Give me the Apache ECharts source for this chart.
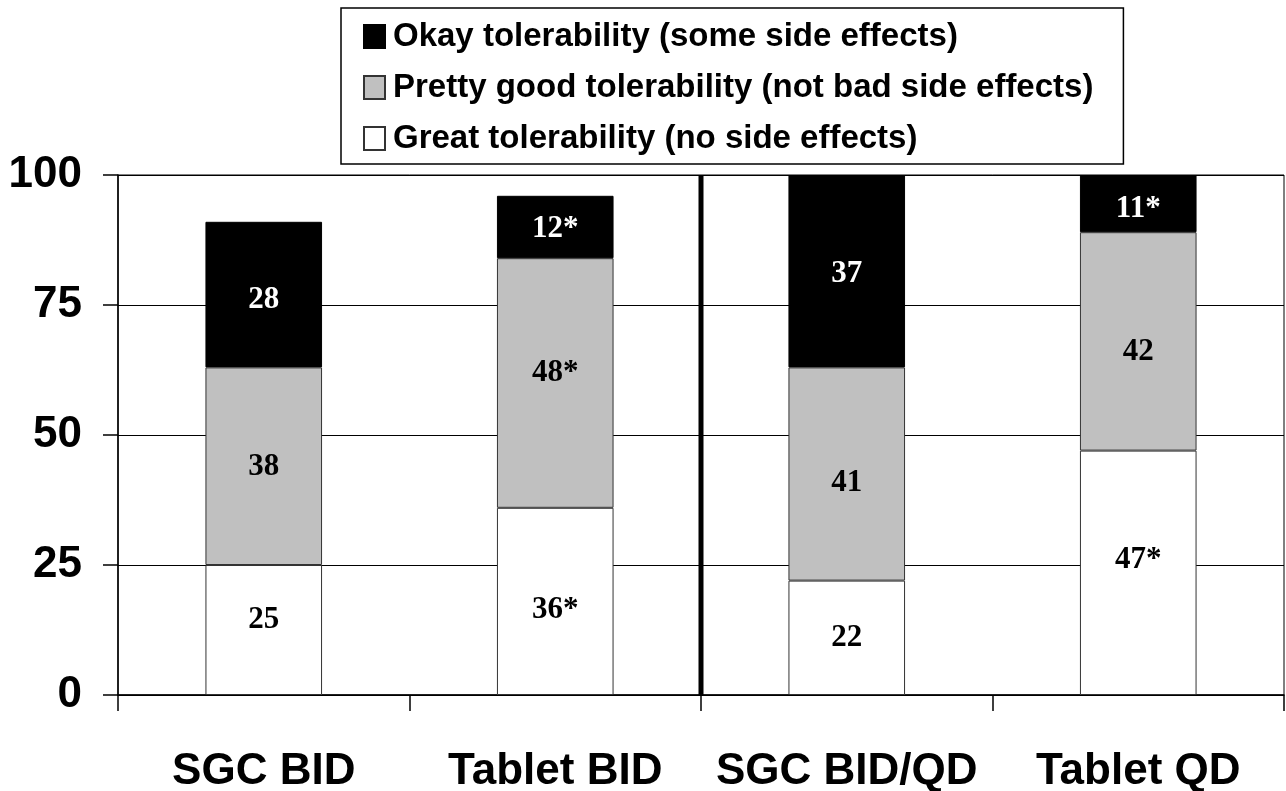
<!DOCTYPE html>
<html><head><meta charset="utf-8">
<script src="https://cdn.jsdelivr.net/npm/echarts@6/dist/echarts.min.js"></script>
<style>html,body{margin:0;padding:0;background:#fff}#c{width:1286px;height:791px}</style>
</head><body><div id="c"></div>
<script>
const categories = ["SGC BID", "Tablet BID", "SGC BID/QD", "Tablet QD"];
const greatValues = [25, 36, 22, 47];
const prettyGoodValues = [38, 48, 41, 42];
const okayValues = [28, 12, 37, 11];
const greatSig = [false, true, false, true];
const prettyGoodSig = [false, true, false, false];
const okaySig = [false, true, false, true];
const yTicks = [0, 25, 50, 75, 100];
const separatorPos = 2; // boundary between 2nd and 3rd category (in category units)

const names = {
  okay: "Okay tolerability (some side effects)",
  pretty: "Pretty good tolerability (not bad side effects)",
  great: "Great tolerability (no side effects)"
};

// label nudges (px) to match the original label placement
const greatOffsets = [-10, 9, 0, -13];
const prettyOffsets = [1, -10, 9, 11];
const okayOffsets = [5, 2, 3, 5];

const labelFont = {fontFamily: "Liberation Serif, Times New Roman, serif", fontWeight: "bold", fontSize: 31};
const sansFont = "Liberation Sans, Arial, sans-serif";

function mkData(vals, sig, offsets) {
  return vals.map((v, i) => ({
    value: v,
    label: {formatter: String(v) + (sig[i] ? "*" : ""), offset: [0, offsets[i]]}
  }));
}

const chart = echarts.init(document.getElementById("c"), null, {renderer: "canvas"});
chart.setOption({
  animation: false,
  backgroundColor: "#fff",
  grid: {left: 118, right: 2, top: 175, bottom: 96, containLabel: false, outerBoundsMode: "none",
         show: true, borderColor: "#000", borderWidth: 1, backgroundColor: "transparent"},
  legend: {
    orient: "vertical",
    left: 341, top: 8,
    padding: [12, 30, 9, 22],
    itemGap: 18,
    itemWidth: 21, itemHeight: 23,
    icon: "rect",
    borderColor: "#000", borderWidth: 1.5,
    data: [names.okay, names.pretty, names.great],
    textStyle: {fontFamily: sansFont, fontWeight: "bold", fontSize: 33, lineHeight: 33, color: "#000", padding: [0, 0, 0, 3]}
  },
  xAxis: [{
    type: "category",
    data: categories,
    axisLine: {lineStyle: {color: "#000", width: 1.5}},
    axisTick: {show: true, interval: 0, length: 16, lineStyle: {color: "#000", width: 1.5}},
    axisLabel: {interval: 0, margin: 55, color: "#000", fontFamily: sansFont, fontWeight: "bold", fontSize: 44, lineHeight: 44, hideOverlap: false},
    splitLine: {show: false}
  }, {
    type: "value", min: 0, max: categories.length, show: false
  }],
  yAxis: {
    type: "value", min: yTicks[0], max: yTicks[yTicks.length - 1], interval: 25,
    axisLine: {show: true, lineStyle: {color: "#000", width: 1.5}},
    axisTick: {show: true, length: 15, lineStyle: {color: "#000", width: 1.5}},
    axisLabel: {margin: 36, color: "#000", fontFamily: sansFont, fontWeight: "bold", fontSize: 44},
    splitLine: {show: true, lineStyle: {color: "#000", width: 1.2}}
  },
  series: [
    {
      name: names.great, type: "bar", stack: "t", barWidth: "40%",
      itemStyle: {color: "#ffffff", borderColor: "#333", borderWidth: 1},
      label: Object.assign({show: true, position: "inside", color: "#000"}, labelFont),
      data: mkData(greatValues, greatSig, greatOffsets)
    },
    {
      name: names.pretty, type: "bar", stack: "t",
      itemStyle: {color: "#c0c0c0", borderColor: "#333", borderWidth: 1},
      label: Object.assign({show: true, position: "inside", color: "#000"}, labelFont),
      data: mkData(prettyGoodValues, prettyGoodSig, prettyOffsets)
    },
    {
      name: names.okay, type: "bar", stack: "t",
      itemStyle: {color: "#000000", borderColor: "#000", borderWidth: 1},
      label: Object.assign({show: true, position: "inside", color: "#fff"}, labelFont),
      data: mkData(okayValues, okaySig, okayOffsets)
    },
    {
      type: "line", xAxisIndex: 1, yAxisIndex: 0, symbol: "none", silent: true, z: 5,
      lineStyle: {color: "#000", width: 5},
      data: [[separatorPos, 0], [separatorPos, 100]]
    }
  ]
});
</script></body></html>
